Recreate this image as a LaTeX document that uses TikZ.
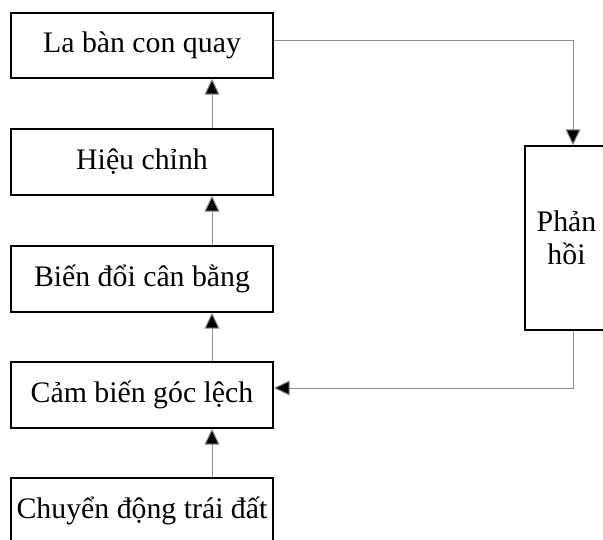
\documentclass[tikz,border=0pt]{standalone}
\usepackage{fontspec}
\setmainfont{Liberation Serif}
\usetikzlibrary{arrows.meta,calc}
\begin{document}
\begin{tikzpicture}[x=1pt,y=-1pt,
  blk/.style={draw=black,line width=1.4pt,minimum width=262pt,minimum height=66pt,inner sep=0pt,
    font=\fontsize{29.8}{33}\selectfont,align=center},
  conn/.style={draw=black!45,line width=1pt,-{Triangle[length=16pt,width=15pt,fill=black]}}]
\useasboundingbox (0,0) rectangle (603,539);
\node[blk,minimum height=65pt] (b1) at (142,45.5) {La bàn con quay};
\node[blk] (b2) at (142,162) {Hiệu chỉnh};
\node[blk] (b3) at (142,279) {Biến đổi cân bằng};
\node[blk] (b4) at (142,395) {Cảm biến góc lệch};
\node[blk] (b5) at (142,511) {Chuyển động trái đất};
\node[blk,minimum width=83pt,minimum height=184pt] (fb) at (566.5,238) {Phản\\hồi};
\draw[conn] ([xshift=70pt]b2.north) -- ([xshift=70pt]b1.south);
\draw[conn] ([xshift=70pt]b3.north) -- ([xshift=70pt]b2.south);
\draw[conn] ([xshift=70pt]b4.north) -- ([xshift=70pt]b3.south);
\draw[conn] ([xshift=70pt]b5.north) -- ([xshift=70pt]b4.south);
\draw[conn] ([yshift=5.5pt]b1.east) -| ([xshift=6.5pt]fb.north);
\draw[conn] ([xshift=6.5pt]fb.south) |- ([yshift=7pt]b4.east);
\end{tikzpicture}
\end{document}
